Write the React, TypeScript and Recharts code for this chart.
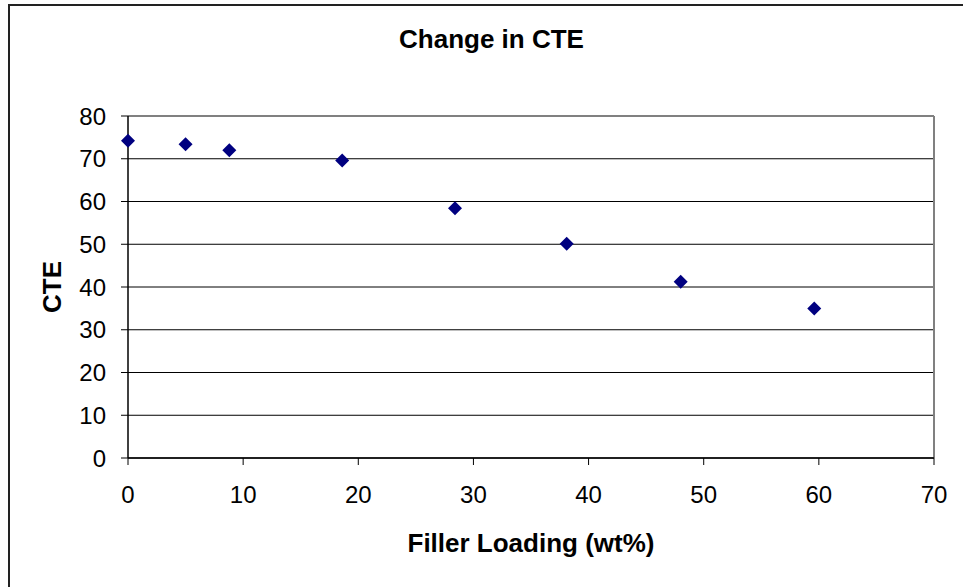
import {
  CartesianGrid,
  ReferenceLine,
  Scatter,
  ScatterChart,
  XAxis,
  YAxis,
} from 'recharts'

const NAVY = '#000080'
const FONT = '"Liberation Sans", Arial, sans-serif'

// filler loading (wt%) vs CTE
const fillerLoading = [0, 5, 8.8, 18.6, 28.4, 38.1, 48, 59.6]
const cteValues = [74.2, 73.4, 72.0, 69.6, 58.4, 50.1, 41.2, 35.0]

const xTicks = [0, 10, 20, 30, 40, 50, 60, 70]
const yTicks = [0, 10, 20, 30, 40, 50, 60, 70, 80]

const points = fillerLoading.map((x, i) => ({ x, y: cteValues[i] }))

const W = 963
const H = 587

function Diamond(props: { cx?: number; cy?: number }) {
  const cx = props.cx ?? 0
  const cy = props.cy ?? 0
  const r = 7
  return (
    <polygon
      points={`${cx},${cy - r} ${cx + r},${cy} ${cx},${cy + r} ${cx - r},${cy}`}
      fill={NAVY}
    />
  )
}

export default function App() {
  return (
    <div
      style={{
        position: 'absolute',
        left: 0,
        top: 0,
        width: W,
        height: H,
        background: '#fff',
        overflow: 'hidden',
        fontFamily: FONT,
      }}
    >
      {/* outer chart-area frame, runs off the bottom/right edge */}
      <div
        style={{
          position: 'absolute',
          left: 8,
          top: 4,
          width: W,
          height: H,
          borderLeft: '2px solid #222',
          borderTop: '2px solid #222',
        }}
      />
      <div
        style={{
          position: 'absolute',
          left: 0,
          top: 24,
          width: 983,
          textAlign: 'center',
          fontSize: 26,
          fontWeight: 700,
          color: '#000',
        }}
      >
        Change in CTE
      </div>
      <div style={{ position: 'absolute', left: 0, top: 0 }}>
        <ScatterChart
          width={W}
          height={H}
          margin={{ top: 116, right: 29, bottom: 0, left: 0 }}
        >
          <CartesianGrid
            vertical={false}
            stroke="#000"
            strokeWidth={1}
            strokeOpacity={1}
          />
          <XAxis
            type="number"
            dataKey="x"
            domain={[0, 70]}
            ticks={xTicks}
            interval={0}
            height={129}
            axisLine={{ stroke: '#000', strokeWidth: 1.5 }}
            tickLine={{ stroke: '#000' }}
            tickSize={7}
            tickMargin={21}
            tick={{ fill: '#000', fontSize: 24, fontFamily: FONT }}
            label={{
              content: (p: any) => {
                const vb = p.viewBox || {}
                return (
                  <text
                    x={vb.x + vb.width / 2}
                    y={543}
                    textAnchor="middle"
                    dominantBaseline="central"
                    fontSize={26}
                    fontWeight={700}
                    fontFamily={FONT}
                    fill="#000"
                  >
                    Filler Loading (wt%)
                  </text>
                )
              },
            }}
          />
          <YAxis
            type="number"
            dataKey="y"
            domain={[0, 80]}
            ticks={yTicks}
            interval={0}
            width={128}
            axisLine={{ stroke: '#000', strokeWidth: 1.5 }}
            tickLine={{ stroke: '#000' }}
            tickSize={7}
            tickMargin={15}
            tick={{ fill: '#000', fontSize: 24, fontFamily: FONT }}
            label={{
              content: (p: any) => {
                const vb = p.viewBox || {}
                const cx = 52
                const cy = vb.y + vb.height / 2
                return (
                  <text
                    x={cx}
                    y={cy}
                    transform={`rotate(-90, ${cx}, ${cy})`}
                    textAnchor="middle"
                    dominantBaseline="central"
                    fontSize={26}
                    fontWeight={700}
                    fontFamily={FONT}
                    fill="#000"
                  >
                    CTE
                  </text>
                )
              },
            }}
          />
          <ReferenceLine y={80} stroke="#808080" strokeWidth={2} />
          <ReferenceLine x={70} stroke="#808080" strokeWidth={2} />
          <Scatter
            data={points}
            fill={NAVY}
            shape={(p: any) => <Diamond cx={p.cx} cy={p.cy} />}
            isAnimationActive={false}
          />
        </ScatterChart>
      </div>
    </div>
  )
}
